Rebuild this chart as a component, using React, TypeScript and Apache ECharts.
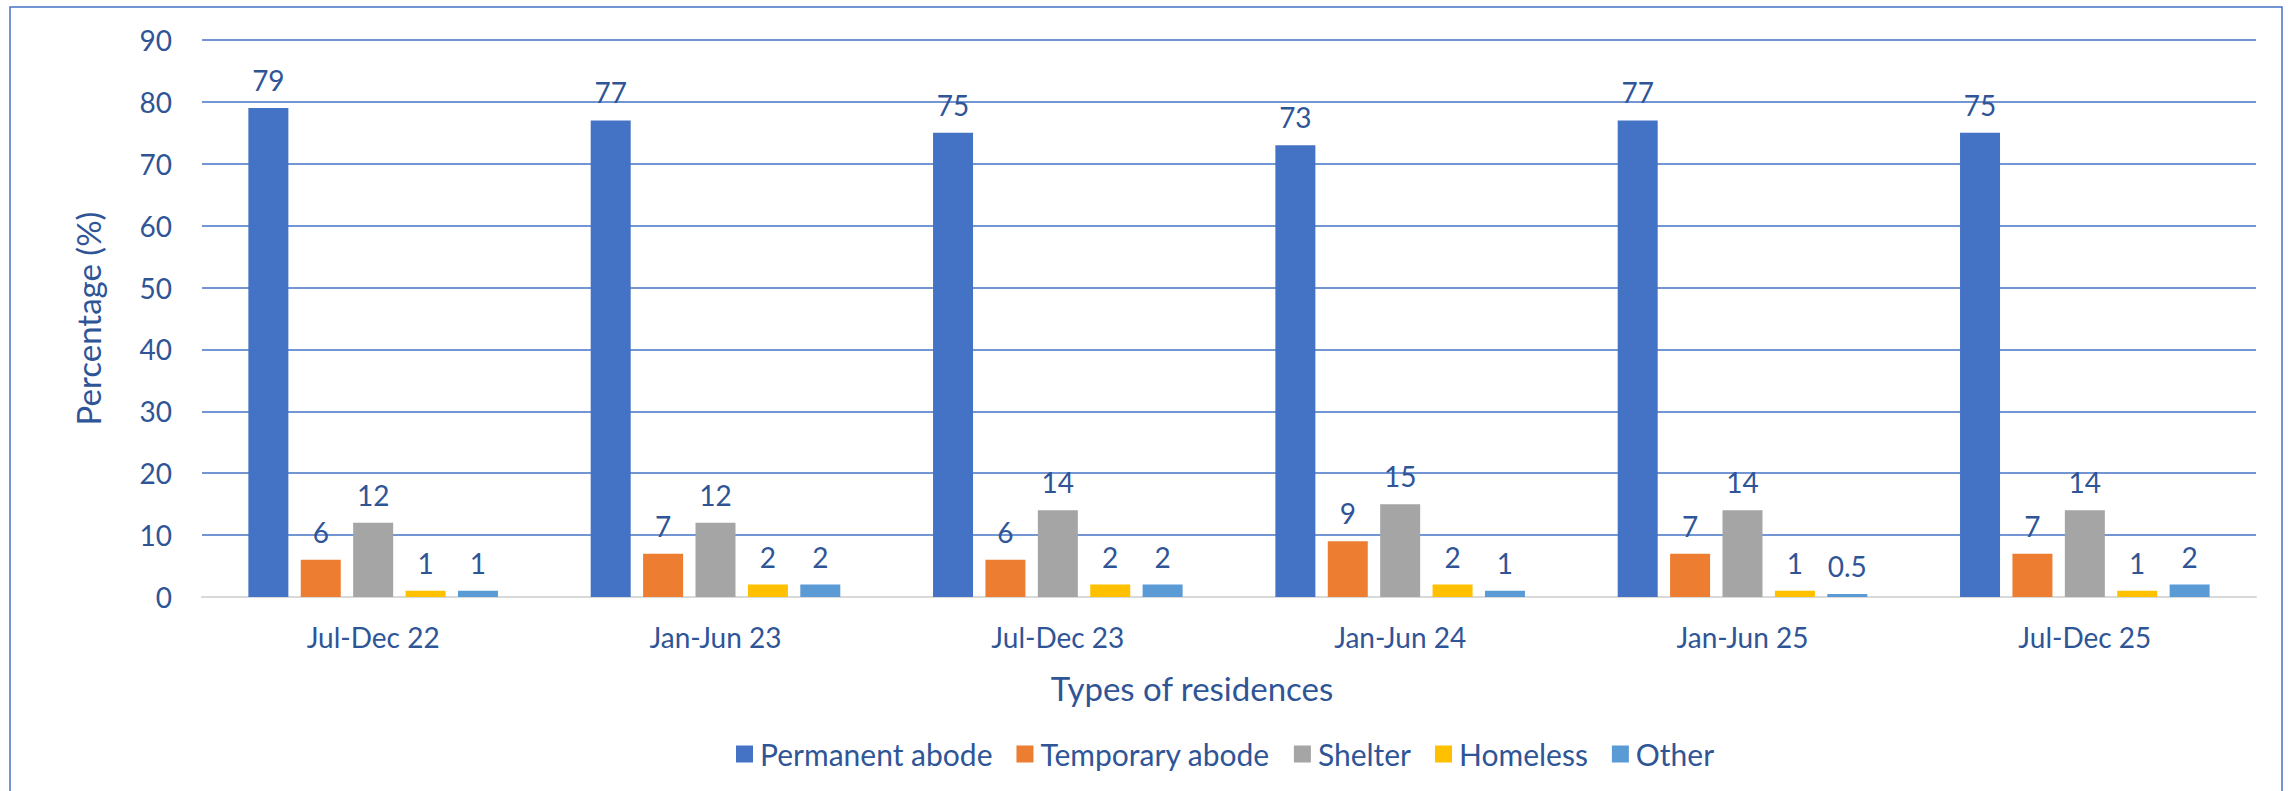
import React, { useEffect, useRef } from "react";
import * as echarts from "echarts";

const categories = ["Jul-Dec 22", "Jan-Jun 23", "Jul-Dec 23", "Jan-Jun 24", "Jan-Jun 25", "Jul-Dec 25"];
const seriesNames = ["Permanent abode", "Temporary abode", "Shelter", "Homeless", "Other"];
const permanentAbode = [79, 77, 75, 73, 77, 75];
const temporaryAbode = [6, 7, 6, 9, 7, 7];
const shelter = [12, 12, 14, 15, 14, 14];
const homeless = [1, 2, 2, 2, 1, 1];
const other = [1, 2, 2, 1, 0.5, 2];
const colors = ["#4472C4", "#ED7D31", "#A5A5A5", "#FFC000", "#5B9BD5"];
const yTicks = { min: 0, max: 90, interval: 10 };

const FONT = "Lato, 'Open Sans', sans-serif";
const TEXT = "#2F5597";

export default function App() {
  const ref = useRef<HTMLDivElement>(null);
  useEffect(() => {
    document.body.style.margin = "0";
    const chart = echarts.init(ref.current!, null, { renderer: "svg" });
    const data = [permanentAbode, temporaryAbode, shelter, homeless, other];
    chart.setOption({
      animation: false,
      backgroundColor: "#ffffff",
      textStyle: { fontFamily: FONT },
      grid: { left: 202, right: 34, top: 40, bottom: 194, containLabel: false },
      legend: {
        data: seriesNames,
        left: 731,
        top: 734,
        itemWidth: 17,
        itemHeight: 17,
        itemGap: 24,
        icon: "rect",
        textStyle: { color: TEXT, fontSize: 30, fontFamily: FONT, padding: [0, 0, 0, 2] },
      },
      xAxis: {
        type: "category",
        data: categories,
        axisLine: { show: true, lineStyle: { color: "#D9D9D9", width: 2 } },
        axisTick: { show: false },
        axisLabel: { color: TEXT, fontSize: 28, fontFamily: FONT, margin: 26 },
        splitLine: { show: false },
      },
      yAxis: {
        type: "value",
        min: yTicks.min,
        max: yTicks.max,
        interval: yTicks.interval,
        name: "Percentage (%)",
        nameLocation: "middle",
        nameGap: 98,
        nameTextStyle: { color: TEXT, fontSize: 33, fontFamily: FONT },
        axisLine: { show: false },
        axisTick: { show: false },
        axisLabel: { color: TEXT, fontSize: 28, fontFamily: FONT, margin: 30 },
        splitLine: { show: true, lineStyle: { color: "#4472C4", width: 1.5 } },
      },
      graphic: [
        {
          type: "rect",
          silent: true,
          shape: { x: 10, y: 7, width: 2272, height: 830 },
          style: { fill: "none", stroke: "#4472C4", lineWidth: 1.5 },
        },
        {
          type: "text",
          silent: true,
          x: 1192,
          y: 688,
          style: {
            text: "Types of residences",
            fill: TEXT,
            font: `33px ${FONT}`,
            fontSize: 33,
            fontFamily: FONT,
            align: "center",
            verticalAlign: "middle",
            textAlign: "center",
            textVerticalAlign: "middle",
          },
        },
      ],
      series: seriesNames.map((name, i) => ({
        name,
        type: "bar",
        data: data[i],
        barWidth: 40,
        barGap: "31%",
        itemStyle: { color: colors[i] },
        label: {
          show: true,
          position: "top",
          distance: 14,
          color: TEXT,
          fontSize: 28,
          fontFamily: FONT,
        },
      })),
    });
    return () => chart.dispose();
  }, []);
  return <div ref={ref} style={{ width: 2290, height: 791 }} />;
}
